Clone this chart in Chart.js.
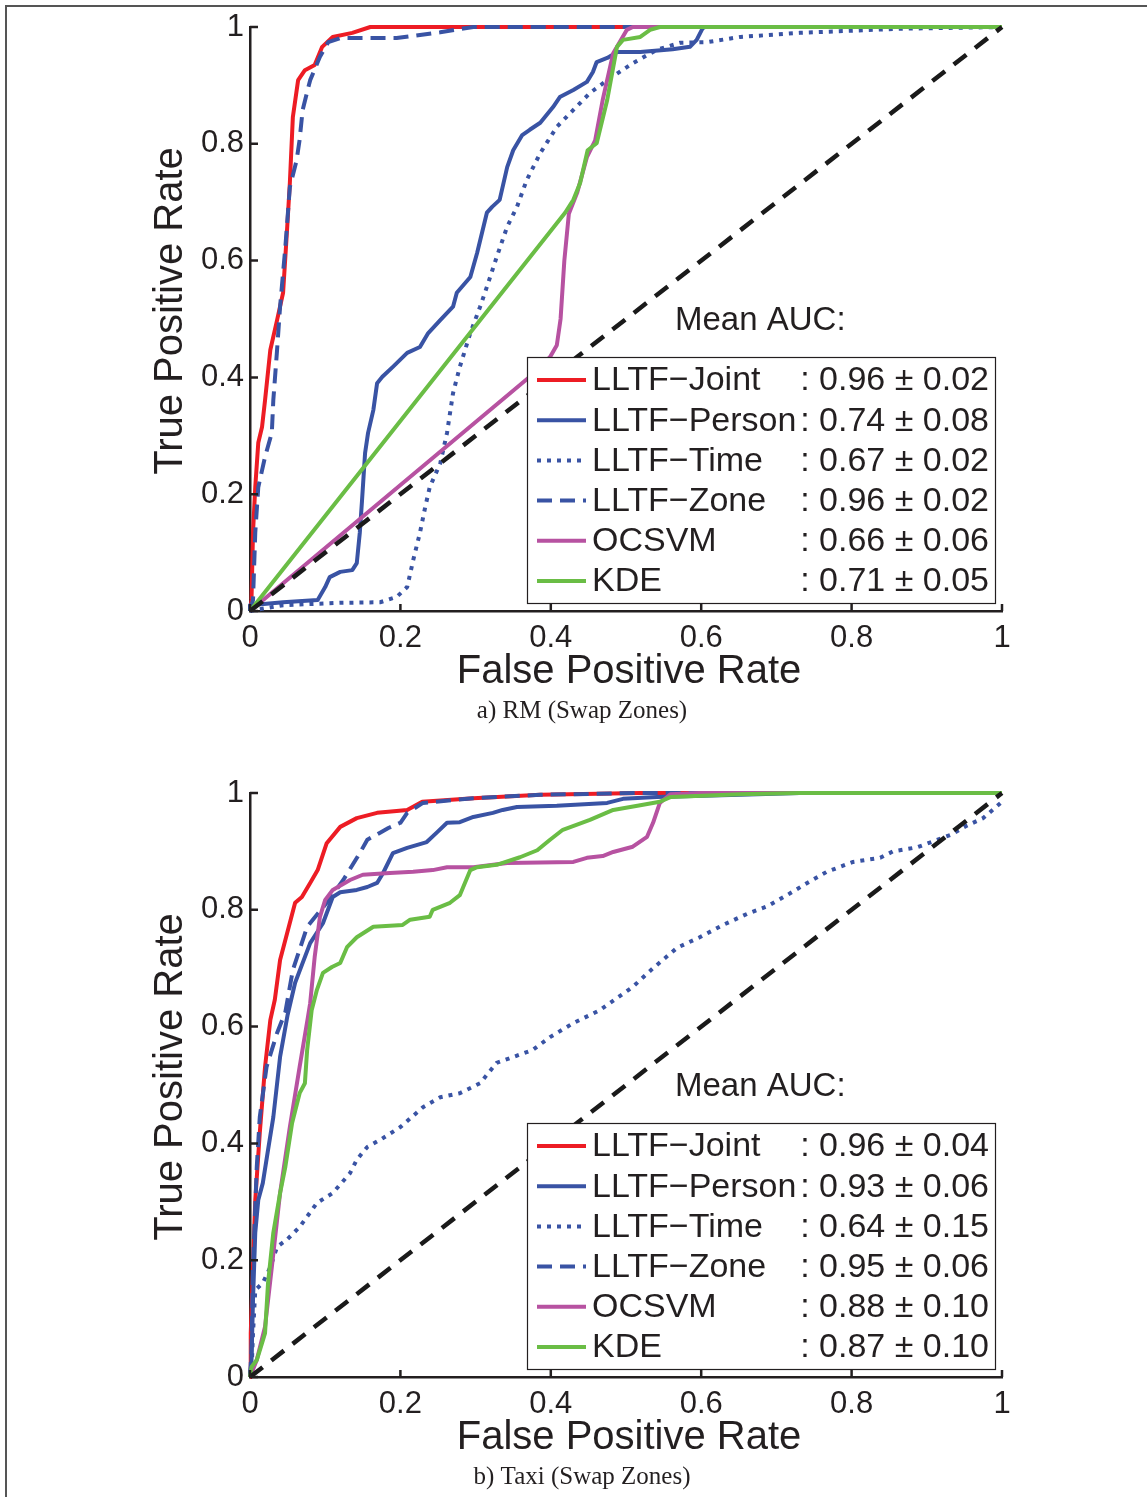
<!DOCTYPE html>
<html>
<head>
<meta charset="utf-8">
<script src="https://cdn.jsdelivr.net/npm/chart.js@4.4.1/dist/chart.umd.min.js"></script>
<style>
  html, body { margin: 0; padding: 0; background: #fff; }
  #page { position: relative; width: 1147px; height: 1497px; overflow: hidden; }
  #frame { position: absolute; left: 5px; top: 5px; right: -10px; bottom: -10px;
           border-top: 2px solid #555; border-left: 2px solid #555; }
  canvas { position: absolute; left: 0; }
</style>
</head>
<body>
<div id="page">
  <div id="frame"></div>
  <canvas id="rmChart" width="1147" height="731" style="top:0px"></canvas>
  <canvas id="taxiChart" width="1147" height="731" style="top:766px"></canvas>
</div>
<script>
// legend names and mean AUC per panel
const seriesNames = ['LLTF\u2212Joint', 'LLTF\u2212Person', 'LLTF\u2212Time', 'LLTF\u2212Zone', 'OCSVM', 'KDE'];
const rmAuc = [': 0.96 \u00b1 0.02', ': 0.74 \u00b1 0.08', ': 0.67 \u00b1 0.02', ': 0.96 \u00b1 0.02', ': 0.66 \u00b1 0.06', ': 0.71 \u00b1 0.05'];
const taxiAuc = [': 0.96 \u00b1 0.04', ': 0.93 \u00b1 0.06', ': 0.64 \u00b1 0.15', ': 0.95 \u00b1 0.06', ': 0.88 \u00b1 0.10', ': 0.87 \u00b1 0.10'];
const captions = ['a) RM (Swap Zones)', 'b) Taxi (Swap Zones)'];

// ROC points [false positive rate, true positive rate]
// a) RM
const rmJoint = [[0,0],[0.002,0.019],[0.004,0.134],[0.007,0.212],[0.011,0.288],[0.016,0.315],[0.020,0.361],[0.027,0.447],[0.036,0.498],[0.044,0.545],[0.049,0.647],[0.053,0.733],[0.057,0.846],[0.064,0.909],[0.073,0.926],[0.086,0.935],[0.096,0.966],[0.110,0.983],[0.136,0.990],[0.160,1],[1,1]];
const rmPerson = [[0,0],[0,0.010],[0.044,0.015],[0.090,0.019],[0.100,0.041],[0.106,0.058],[0.120,0.067],[0.136,0.070],[0.142,0.082],[0.146,0.134],[0.149,0.190],[0.153,0.270],[0.157,0.305],[0.164,0.344],[0.169,0.390],[0.176,0.401],[0.190,0.418],[0.209,0.442],[0.226,0.452],[0.237,0.476],[0.253,0.498],[0.270,0.521],[0.275,0.545],[0.293,0.572],[0.302,0.613],[0.315,0.682],[0.322,0.692],[0.332,0.704],[0.342,0.760],[0.350,0.789],[0.362,0.815],[0.372,0.824],[0.386,0.836],[0.403,0.863],[0.412,0.880],[0.430,0.892],[0.448,0.906],[0.456,0.923],[0.461,0.940],[0.475,0.947],[0.488,0.957],[0.519,0.957],[0.562,0.962],[0.585,0.966],[0.594,0.978],[0.602,0.998],[0.605,1],[1,1]];
const rmTime = [[0,0],[0.044,0.010],[0.120,0.014],[0.173,0.015],[0.195,0.024],[0.209,0.041],[0.217,0.087],[0.226,0.134],[0.233,0.178],[0.239,0.212],[0.253,0.253],[0.262,0.305],[0.270,0.373],[0.279,0.418],[0.293,0.476],[0.306,0.521],[0.315,0.555],[0.328,0.606],[0.342,0.658],[0.355,0.692],[0.368,0.738],[0.386,0.784],[0.408,0.829],[0.430,0.858],[0.452,0.887],[0.475,0.909],[0.509,0.938],[0.541,0.961],[0.572,0.973],[0.608,0.974],[0.652,0.983],[0.731,0.990],[0.864,0.997],[1,1]];
const rmZone = [[0,0],[0.004,0.019],[0.007,0.134],[0.011,0.212],[0.020,0.264],[0.029,0.305],[0.031,0.361],[0.036,0.447],[0.040,0.521],[0.047,0.623],[0.053,0.726],[0.062,0.772],[0.066,0.807],[0.070,0.858],[0.080,0.909],[0.093,0.949],[0.104,0.974],[0.120,0.981],[0.195,0.981],[0.253,0.991],[0.297,1],[1,1]];
const rmOcsvm = [[0,0],[0.372,0.401],[0.399,0.435],[0.408,0.455],[0.413,0.500],[0.418,0.600],[0.424,0.680],[0.435,0.716],[0.448,0.777],[0.459,0.806],[0.469,0.875],[0.483,0.955],[0.501,0.995],[0.509,1],[1,1]];
const rmKde = [[0,0],[0.419,0.682],[0.430,0.704],[0.439,0.733],[0.449,0.789],[0.461,0.801],[0.475,0.875],[0.488,0.966],[0.496,0.978],[0.519,0.983],[0.532,0.995],[0.545,1],[1,1]];

// b) Taxi
const taxiJoint = [[0,0],[0.001,0.075],[0.004,0.188],[0.007,0.303],[0.013,0.418],[0.020,0.531],[0.027,0.611],[0.033,0.646],[0.040,0.714],[0.060,0.812],[0.069,0.822],[0.080,0.846],[0.090,0.868],[0.102,0.914],[0.120,0.942],[0.142,0.957],[0.169,0.966],[0.195,0.969],[0.209,0.971],[0.229,0.985],[0.297,0.991],[0.386,0.997],[0.519,1],[1,1]];
const taxiPerson = [[0,0],[0.002,0.029],[0.004,0.132],[0.007,0.247],[0.011,0.303],[0.017,0.332],[0.024,0.389],[0.031,0.445],[0.040,0.548],[0.050,0.620],[0.060,0.675],[0.080,0.743],[0.097,0.777],[0.110,0.822],[0.120,0.830],[0.142,0.834],[0.156,0.839],[0.169,0.846],[0.177,0.863],[0.190,0.897],[0.209,0.906],[0.235,0.916],[0.249,0.933],[0.262,0.949],[0.279,0.950],[0.297,0.959],[0.323,0.966],[0.336,0.971],[0.355,0.976],[0.408,0.978],[0.475,0.983],[0.496,0.990],[0.541,0.993],[0.652,0.997],[0.731,1],[1,1]];
const taxiTime = [[0,0],[0.002,0.007],[0.004,0.075],[0.007,0.149],[0.017,0.161],[0.027,0.188],[0.036,0.223],[0.049,0.235],[0.066,0.257],[0.089,0.298],[0.110,0.315],[0.133,0.349],[0.142,0.372],[0.156,0.394],[0.173,0.406],[0.200,0.428],[0.230,0.462],[0.253,0.479],[0.279,0.486],[0.306,0.503],[0.328,0.538],[0.350,0.548],[0.376,0.560],[0.399,0.582],[0.430,0.606],[0.465,0.628],[0.509,0.668],[0.536,0.700],[0.568,0.735],[0.598,0.753],[0.629,0.774],[0.661,0.793],[0.688,0.806],[0.714,0.825],[0.741,0.846],[0.767,0.865],[0.802,0.882],[0.838,0.889],[0.855,0.900],[0.887,0.907],[0.908,0.917],[0.931,0.928],[0.953,0.944],[0.975,0.957],[1,0.985]];
const taxiZone = [[0,0],[0.002,0.046],[0.004,0.188],[0.009,0.360],[0.013,0.445],[0.022,0.531],[0.036,0.589],[0.047,0.625],[0.057,0.697],[0.076,0.771],[0.102,0.812],[0.124,0.851],[0.146,0.897],[0.156,0.920],[0.173,0.932],[0.184,0.940],[0.200,0.949],[0.209,0.966],[0.230,0.983],[0.297,0.991],[0.386,0.997],[0.519,1],[1,1]];
const taxiOcsvm = [[0,0],[0.009,0.029],[0.020,0.086],[0.029,0.188],[0.040,0.315],[0.053,0.428],[0.066,0.531],[0.077,0.616],[0.080,0.640],[0.086,0.719],[0.093,0.788],[0.100,0.817],[0.110,0.834],[0.133,0.851],[0.150,0.860],[0.186,0.863],[0.217,0.865],[0.243,0.868],[0.262,0.873],[0.297,0.873],[0.342,0.880],[0.430,0.882],[0.448,0.889],[0.469,0.892],[0.483,0.899],[0.509,0.908],[0.528,0.925],[0.536,0.949],[0.545,0.983],[0.559,0.998],[0.598,1],[1,1]];
const taxiKde = [[0,0],[0.002,0.017],[0.009,0.029],[0.016,0.058],[0.020,0.075],[0.024,0.161],[0.031,0.247],[0.040,0.315],[0.047,0.360],[0.056,0.435],[0.066,0.486],[0.073,0.503],[0.076,0.560],[0.082,0.628],[0.089,0.663],[0.097,0.692],[0.109,0.702],[0.120,0.709],[0.129,0.736],[0.142,0.753],[0.164,0.771],[0.203,0.774],[0.213,0.783],[0.239,0.788],[0.243,0.800],[0.266,0.812],[0.279,0.825],[0.293,0.868],[0.302,0.873],[0.328,0.877],[0.359,0.890],[0.382,0.902],[0.399,0.920],[0.416,0.937],[0.452,0.954],[0.483,0.971],[0.519,0.979],[0.545,0.985],[0.559,0.993],[0.652,0.998],[0.731,1],[1,1]];

const chanceLine = [[0,0],[1,1]];

const INK = '#231f20';
const SANS = '"Liberation Sans", Arial, Helvetica, sans-serif';
const SERIF = '"Liberation Serif", "Times New Roman", serif';

// line styles, same order as seriesNames
const styles = [
    { color: 'rgb(237, 28, 36)', dash: [] },
    { color: 'rgb(57, 83, 164)', dash: [] },
    { color: 'rgb(57, 83, 164)', dash: [4, 6] },
    { color: 'rgb(57, 83, 164)', dash: [15, 8] },
    { color: 'rgb(183, 82, 161)', dash: [] },
    { color: 'rgb(106, 189, 69)', dash: [] }
];

// where the plot box has to land inside each canvas
const target = { left: 250, top: 27, right: 1002, bottom: 611 };

const toXY = (pts) => pts.map(p => ({ x: p[0], y: p[1] }));
const tickText = (v) => String(Number(v.toFixed(2)));

const rocDecor = {
    id: 'rocDecor',
    afterDatasetsDraw(chart, args, opts) {
        const ctx = chart.ctx;
        const ca = chart.chartArea;
        const xs = chart.scales.x;
        const ys = chart.scales.y;
        ctx.save();

        // inward tick marks
        ctx.strokeStyle = INK;
        ctx.lineWidth = 2.5;
        ctx.setLineDash([]);
        ctx.beginPath();
        xs.ticks.forEach(t => {
            const px = xs.getPixelForValue(t.value);
            ctx.moveTo(px, ca.bottom);
            ctx.lineTo(px, ca.bottom - 7);
        });
        ys.ticks.forEach(t => {
            const py = ys.getPixelForValue(t.value);
            ctx.moveTo(ca.left, py);
            ctx.lineTo(ca.left + 8, py);
        });
        ctx.stroke();

        // "Mean AUC:" heading
        ctx.fillStyle = INK;
        ctx.font = '33px ' + SANS;
        ctx.textAlign = 'left';
        ctx.textBaseline = 'middle';
        ctx.fillText('Mean AUC:', ca.left + 425, ca.top + 294);

        // legend box
        const bx = ca.left + 277, by = ca.top + 330, bw = 468, bh = 246;
        ctx.fillStyle = '#fff';
        ctx.fillRect(bx, by, bw, bh);
        ctx.strokeStyle = INK;
        ctx.lineWidth = 1.2;
        ctx.strokeRect(bx + 0.5, by + 0.5, bw, bh);

        seriesNames.forEach((name, i) => {
            const ry = by + 23 + i * 40.2;
            ctx.strokeStyle = styles[i].color;
            ctx.lineWidth = 4;
            ctx.setLineDash(styles[i].dash);
            ctx.beginPath();
            ctx.moveTo(bx + 10, ry);
            ctx.lineTo(bx + 59, ry);
            ctx.stroke();
            ctx.setLineDash([]);
            ctx.fillStyle = INK;
            ctx.font = '34px ' + SANS;
            ctx.textAlign = 'left';
            ctx.fillText(name, bx + 65, ry + 1);
            // the value column hugs a long name, otherwise it is right-aligned
            const nameEnd = bx + 65 + ctx.measureText(name).width;
            const valW = ctx.measureText(opts.auc[i]).width;
            const vx = Math.max(nameEnd, bx + 462 - valW);
            ctx.fillText(opts.auc[i], vx, ry + 1);
        });

        // axis titles
        ctx.fillStyle = INK;
        ctx.textBaseline = 'alphabetic';
        ctx.textAlign = 'center';
        ctx.font = '40px ' + SANS;
        ctx.fillText('False Positive Rate', (ca.left + ca.right) / 2 + 3, ca.bottom + 72);
        ctx.save();
        ctx.translate(182, ca.top + 284);
        ctx.rotate(-Math.PI / 2);
        ctx.fillText('True Positive Rate', 0, 0);
        ctx.restore();

        // caption
        ctx.font = '25px ' + SERIF;
        ctx.fillText(opts.caption, 582, ca.bottom + 107);

        ctx.restore();
    }
};

function makeChart(canvasId, series, auc, caption) {
    const datasets = series.map((pts, i) => ({
        label: seriesNames[i],
        data: toXY(pts),
        borderColor: styles[i].color,
        borderDash: styles[i].dash,
        borderWidth: 4,
        borderJoinStyle: 'round',
        pointRadius: 0,
        showLine: true,
        fill: false,
        tension: 0,
        clip: 8,
        order: 6 - i
    }));
    datasets.push({
        label: 'chance',
        data: toXY(chanceLine),
        borderColor: '#1a1a1a',
        borderDash: [16, 11],
        borderWidth: 4.5,
        pointRadius: 0,
        showLine: true,
        fill: false,
        clip: 8,
        order: 0
    });

    const padding = { left: 190, right: 140, top: 20, bottom: 110 };
    const options = {
        responsive: false,
        animation: false,
        devicePixelRatio: 1,
        layout: { padding: padding },
        plugins: {
            legend: { display: false },
            tooltip: { enabled: false },
            rocDecor: { auc: auc, caption: caption }
        },
        scales: {
            x: {
                type: 'linear',
                min: 0,
                max: 1,
                ticks: { stepSize: 0.2, padding: 9, color: INK, font: { size: 31, family: SANS }, callback: tickText },
                grid: { display: false, drawTicks: false },
                border: { display: true, color: INK, width: 2.5 }
            },
            y: {
                type: 'linear',
                min: 0,
                max: 1,
                ticks: { stepSize: 0.2, padding: 6, color: INK, font: { size: 31, family: SANS }, callback: tickText },
                grid: { display: false, drawTicks: false },
                border: { display: true, color: INK, width: 2.5 }
            }
        }
    };

    const chart = new Chart(document.getElementById(canvasId), {
        type: 'scatter',
        data: { datasets: datasets },
        options: options,
        plugins: [rocDecor]
    });

    // nudge the padding so the plot box sits where it does in the figure
    for (let k = 0; k < 3; k++) {
        const a = chart.chartArea;
        const p = {
            left: padding.left + target.left - a.left,
            top: padding.top + target.top - a.top,
            right: padding.right + a.right - target.right,
            bottom: padding.bottom + a.bottom - target.bottom
        };
        Object.assign(padding, p);
        chart.options.layout.padding = Object.assign({}, p);
        chart.update('none');
    }
    return chart;
}

makeChart('rmChart', [rmJoint, rmPerson, rmTime, rmZone, rmOcsvm, rmKde], rmAuc, captions[0]);
makeChart('taxiChart', [taxiJoint, taxiPerson, taxiTime, taxiZone, taxiOcsvm, taxiKde], taxiAuc, captions[1]);
</script>
</body>
</html>
